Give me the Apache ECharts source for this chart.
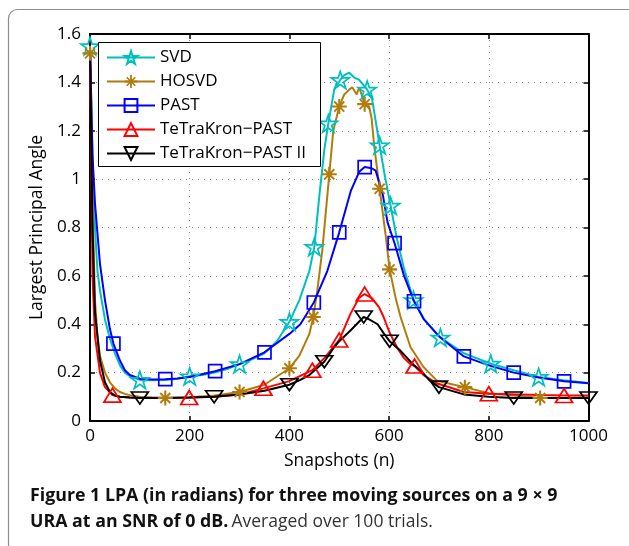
<!DOCTYPE html>
<html>
<head>
<meta charset="utf-8">
<script src="https://cdn.jsdelivr.net/npm/echarts@6/dist/echarts.min.js"></script>
<style>
html,body{margin:0;padding:0;background:#fff;}
#c{width:629px;height:546px;}
</style>
</head>
<body>
<div id="c"></div>
<script>
// ---- Data ----
var xTicks = [0, 200, 400, 600, 800, 1000];
var yTicks = [0, 0.2, 0.4, 0.6, 0.8, 1, 1.2, 1.4, 1.6];
var seriesNames = ['SVD', 'HOSVD', 'PAST', 'TeTraKron\u2212PAST', 'TeTraKron\u2212PAST II'];

var svdX = [0,5,10,15,20,25,30,40,50,60,70,80,100,125,150,175,200,225,250,275,300,325,350,375,400,420,440,450,460,470,478,490,502,510,520,530,540,556,566,581,590,603,615,630,649,670,703,750,804,850,900,950,1000];
var svdY = [1.55,1.1,0.8,0.62,0.54,0.48,0.42,0.34,0.28,0.23,0.2,0.185,0.17,0.168,0.17,0.175,0.185,0.19,0.2,0.215,0.235,0.255,0.28,0.33,0.41,0.5,0.62,0.72,0.93,1.12,1.23,1.37,1.41,1.43,1.44,1.42,1.41,1.37,1.33,1.14,1.03,0.89,0.76,0.63,0.5,0.42,0.345,0.28,0.237,0.21,0.182,0.168,0.157];
var svdMarkX = [0,100,200,300,400,450,478,502,556,581,603,649,703,804,900];

var hosvdX = [0,5,10,15,20,30,40,50,60,70,80,100,125,151,175,200,250,300,350,400,420,440,448,456,466,480,488,500,510,520,526,535,540,551,560,565,570,581,593,601,613,623,643,669,697,752,800,850,903,950,1000];
var hosvdY = [1.52,0.9,0.5,0.35,0.27,0.2,0.16,0.135,0.12,0.112,0.107,0.1,0.097,0.095,0.096,0.098,0.105,0.12,0.15,0.218,0.27,0.36,0.43,0.54,0.705,1.02,1.2,1.3,1.35,1.37,1.38,1.35,1.38,1.31,1.3,1.25,1.14,0.96,0.77,0.627,0.51,0.43,0.305,0.223,0.165,0.14,0.115,0.105,0.095,0.095,0.097];
var hosvdMarkX = [0,151,300,400,448,480,500,551,581,601,752,903];

var pastX = [0,5,10,20,30,40,47,60,70,80,100,125,151,175,200,251,300,350,400,422,449,476,500,523,540,551,565,573,587,597,611,630,650,670,700,750,800,850,900,951,1000];
var pastY = [1.55,1.1,0.9,0.65,0.5,0.38,0.32,0.25,0.21,0.19,0.175,0.172,0.173,0.176,0.182,0.206,0.235,0.284,0.36,0.4,0.49,0.62,0.78,0.95,1.03,1.05,1.045,1.035,0.94,0.82,0.735,0.6,0.495,0.42,0.35,0.267,0.23,0.2,0.18,0.164,0.156];
var pastMarkX = [47,151,251,350,449,500,551,611,650,750,850,951];

var tkX = [0,5,10,20,30,45,60,80,100,150,199,250,300,348,400,446,470,500,523,540,551,566,580,589,600,617,630,643,651,669,697,750,800,900,951,1000];
var tkY = [1.55,0.6,0.35,0.2,0.14,0.107,0.1,0.097,0.095,0.096,0.097,0.1,0.11,0.135,0.165,0.21,0.26,0.335,0.445,0.51,0.525,0.507,0.47,0.43,0.37,0.3,0.26,0.235,0.227,0.19,0.155,0.12,0.113,0.107,0.105,0.105];
var tkMarkX = [45,199,348,446,500,551,651,800,951];

var tk2X = [0,5,10,20,30,40,50,60,80,100,150,200,249,300,350,400,422,440,470,488,500,523,549,560,577,590,601,623,650,663,680,700,750,800,850,900,1000];
var tk2Y = [1.55,0.8,0.45,0.25,0.16,0.12,0.105,0.1,0.097,0.095,0.095,0.097,0.1,0.11,0.125,0.15,0.17,0.19,0.245,0.3,0.33,0.375,0.43,0.42,0.4,0.36,0.33,0.29,0.23,0.21,0.17,0.14,0.11,0.1,0.095,0.095,0.095];
var tk2MarkX = [100,249,400,470,549,601,700,850,1000];

// ---- Styling ----
var FONT = 'Open Sans';
var colors = ['#00BFBF', '#B07D0C', '#0000FF', '#FF0000', '#000000'];
var starPath = 'path://M50,2 L61.2,36.6 L97.6,36.6 L68.2,58 L79.4,92.6 L50,71.2 L20.6,92.6 L31.8,58 L2.4,36.6 L38.8,36.6 Z';
var asteriskPath = 'path://M43,0 L57,0 L57,100 L43,100 Z M0,43 L100,43 L100,57 L0,57 Z M12,21 L21,12 L88,79 L79,88 Z M79,12 L88,21 L21,88 L12,79 Z';
var invTriPath = 'path://M0,0 L100,0 L50,86 Z';

function build(xs, ys, marks) {
  var out = [];
  for (var i = 0; i < xs.length; i++) {
    var item = { value: [xs[i], ys[i]] };
    if (marks.indexOf(xs[i]) < 0) item.symbol = 'none';
    out.push(item);
  }
  return out;
}

var defs = [
  { x: svdX, y: svdY, m: svdMarkX, symbol: starPath, size: 18, fill: false },
  { x: hosvdX, y: hosvdY, m: hosvdMarkX, symbol: asteriskPath, size: 15, fill: true },
  { x: pastX, y: pastY, m: pastMarkX, symbol: 'rect', size: 13, fill: false },
  { x: tkX, y: tkY, m: tkMarkX, symbol: 'triangle', size: [17, 14], fill: false },
  { x: tk2X, y: tk2Y, m: tk2MarkX, symbol: invTriPath, size: [17, 14], fill: false }
];

var series = defs.map(function (d, i) {
  return {
    name: seriesNames[i],
    type: 'line',
    data: build(d.x, d.y, d.m),
    symbol: d.symbol,
    symbolSize: d.size,
    symbolKeepAspect: true,
    showAllSymbol: true,
    clip: true,
    z: 3,
    lineStyle: { color: colors[i], width: 2 },
    itemStyle: d.fill
      ? { color: colors[i], borderWidth: 0 }
      : { color: 'rgba(255,255,255,0)', borderColor: colors[i], borderWidth: 1.7 },
    emphasis: { disabled: true },
    animation: false
  };
});

var chart = echarts.init(document.getElementById('c'), null, { renderer: 'canvas' });
var axisLabelStyle = { color: '#000', fontFamily: FONT, fontSize: 17 };

chart.setOption({
  backgroundColor: '#fff',
  animation: false,
  textStyle: { fontFamily: FONT },
  grid: { left: 90, top: 34, right: 40.5, bottom: 125, containLabel: false },
  legend: {
    show: true,
    data: seriesNames,
    orient: 'vertical',
    left: 98,
    top: 42,
    padding: [7, 10, 5, 8],
    itemWidth: 48,
    itemHeight: 16,
    itemGap: 7,
    z: 10,
    textStyle: { fontFamily: FONT, fontSize: 17, lineHeight: 16, color: '#000' },
    selectedMode: false
  },
  graphic: [
    { type: 'rect', z: 0, silent: true, shape: { x: 8.5, y: 9.5, width: 700, height: 600, r: 9 }, style: { fill: 'none', stroke: '#8c8c8c', lineWidth: 1.2 } },
    { type: 'rect', z: 9, silent: true, shape: { x: 98.5, y: 42.5, width: 222, height: 124 }, style: { fill: '#fff', stroke: '#000', lineWidth: 1 } },
    {
      type: 'text', left: 30, top: 483, silent: true, z: 20,
      style: {
        text: '{b|Figure 1 LPA (in radians) for three moving sources on a 9 \u00d7 9}\n{b|URA at an SNR of 0 dB.} {n|Averaged over 100 trials.}',
        fontFamily: FONT,
        lineHeight: 26,
        rich: {
          b: { fontFamily: FONT, fontSize: 17.8, fontWeight: 'bold', fill: '#111', lineHeight: 26 },
          n: { fontFamily: FONT, fontSize: 17.5, fontWeight: 'normal', fill: '#333', lineHeight: 26 }
        }
      }
    }
  ],
  xAxis: [
    {
      type: 'value', min: 0, max: 1000, interval: 200,
      name: 'Snapshots (n)', nameLocation: 'middle', nameGap: 31,
      nameTextStyle: { color: '#000', fontFamily: FONT, fontSize: 17.5 },
      axisLine: { show: true, onZero: false, lineStyle: { color: '#000', width: 2 } },
      axisTick: { show: true, inside: true, length: 5, lineStyle: { color: '#000', width: 1.5 } },
      axisLabel: Object.assign({ margin: 7, formatter: function (v) { return xTicks.indexOf(v) >= 0 ? String(v) : ''; } }, axisLabelStyle),
      splitLine: { show: true, lineStyle: { color: '#888', type: [1, 5], width: 1 } }
    },
    {
      type: 'value', position: 'top', min: 0, max: 1000, interval: 200,
      axisLine: { show: true, onZero: false, lineStyle: { color: '#000', width: 2 } },
      axisTick: { show: true, inside: true, length: 5, lineStyle: { color: '#000', width: 1.5 } },
      axisLabel: { show: false }, splitLine: { show: false }
    }
  ],
  yAxis: [
    {
      type: 'value', min: 0, max: 1.6, interval: 0.2,
      name: 'Largest Principal Angle', nameLocation: 'middle', nameGap: 38,
      nameTextStyle: { color: '#000', fontFamily: FONT, fontSize: 17.5 },
      axisLine: { show: true, onZero: false, lineStyle: { color: '#000', width: 2 } },
      axisTick: { show: true, inside: true, length: 5, lineStyle: { color: '#000', width: 1.5 } },
      axisLabel: Object.assign({ margin: 9, formatter: function (v) {
        var r = Math.round(v * 10) / 10;
        for (var k = 0; k < yTicks.length; k++) { if (Math.abs(yTicks[k] - r) < 1e-9) return String(yTicks[k]); }
        return '';
      } }, axisLabelStyle),
      splitLine: { show: true, lineStyle: { color: '#888', type: [1, 5], width: 1 } }
    },
    {
      type: 'value', position: 'right', min: 0, max: 1.6, interval: 0.2,
      axisLine: { show: true, onZero: false, lineStyle: { color: '#000', width: 2 } },
      axisTick: { show: true, inside: true, length: 5, lineStyle: { color: '#000', width: 1.5 } },
      axisLabel: { show: false }, splitLine: { show: false }
    }
  ],
  series: series
});
</script>
</body>
</html>
